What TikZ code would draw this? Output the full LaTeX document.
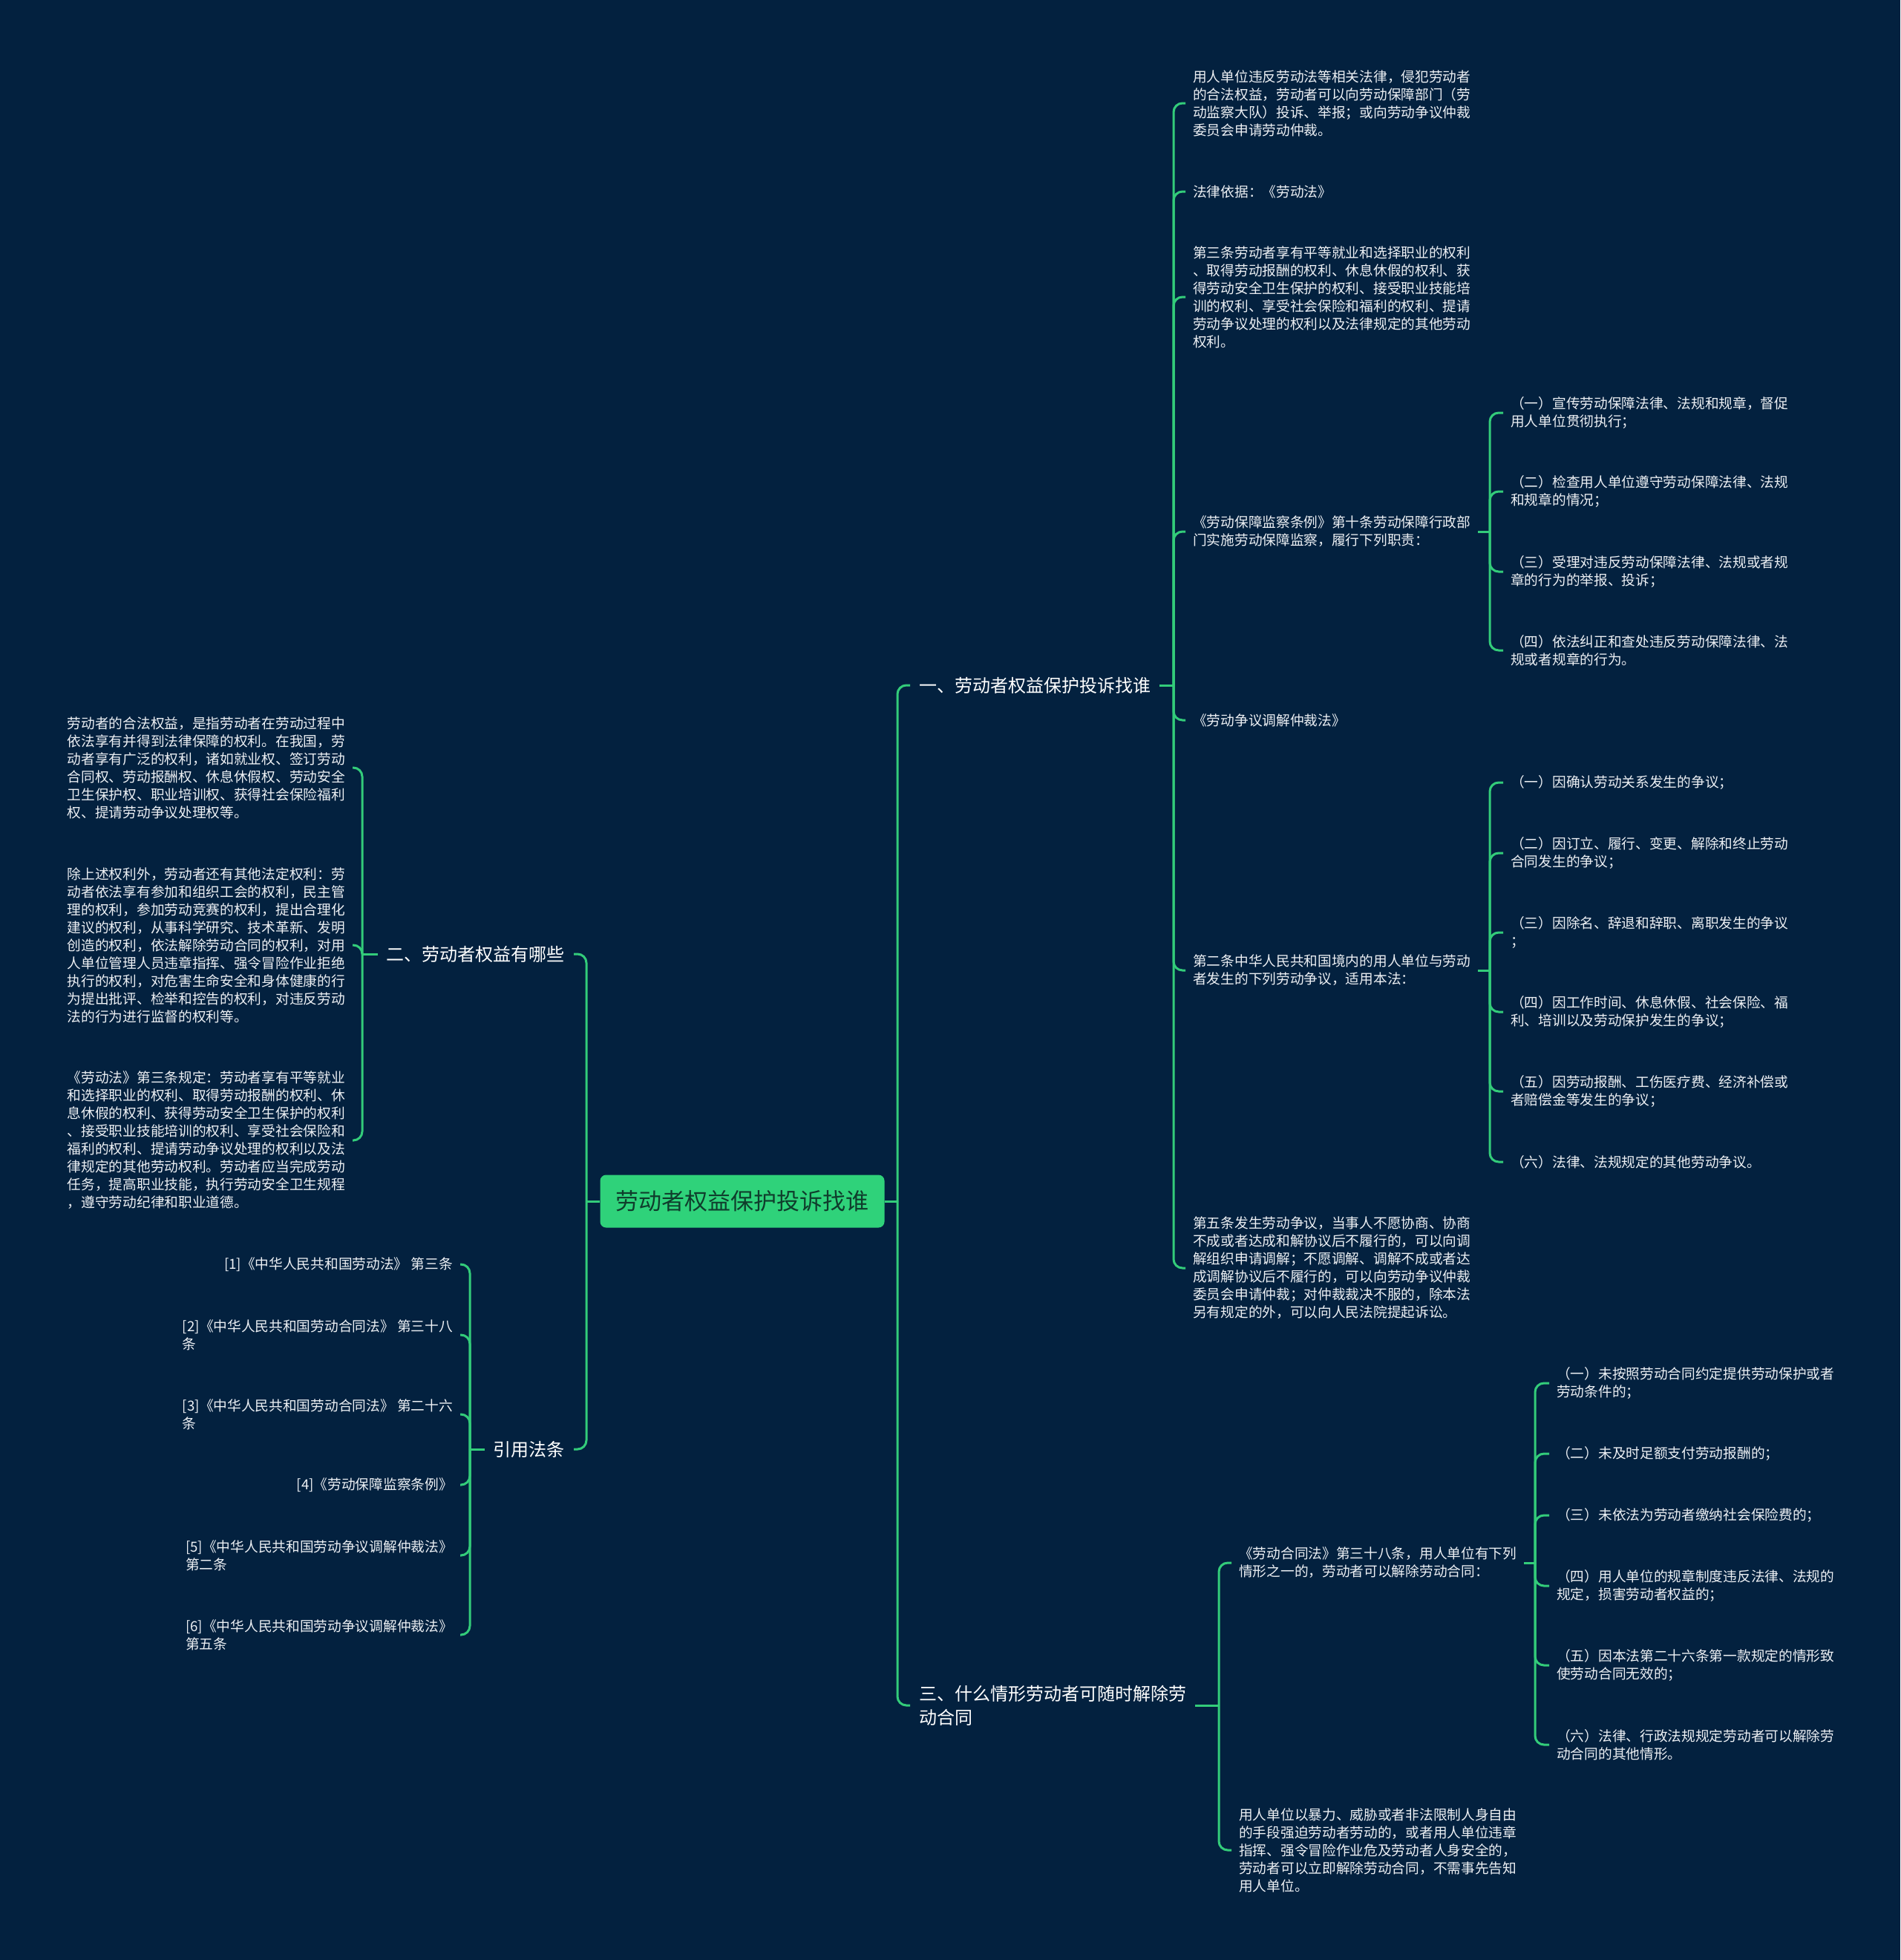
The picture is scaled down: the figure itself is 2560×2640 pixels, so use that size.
\documentclass[tikz,border=0pt]{standalone}
\usepackage{fontspec}
\setmainfont{Noto Sans CJK SC}
\usepackage{tikz}

\definecolor{bgnavy}{HTML}{03213F}
\definecolor{linkgreen}{HTML}{33CC7A}
\definecolor{rootgreen}{HTML}{2FD27A}
\definecolor{roottext}{HTML}{0F3D2C}
\definecolor{leaftext}{HTML}{EDF0F4}

\newcommand{\leaffont}{\fontsize{18.7}{24}\selectfont}
\newcommand{\branchfont}{\fontsize{24}{32}\selectfont}
\newcommand{\rootfont}{\fontsize{31}{36}\selectfont}

\begin{document}
\begin{tikzpicture}[x=1pt,y=-1pt,
    link/.style={draw=linkgreen,line width=3pt,rounded corners=12pt},
    leaf/.style={text=leaftext,font=\leaffont,align=left,inner xsep=10pt,inner ysep=2pt},
    branch/.style={text=white,font=\branchfont,align=left,inner xsep=12pt,inner ysep=3pt},
    rootbox/.style={fill=rootgreen,text=roottext,font=\rootfont,rounded corners=8pt,
      minimum width=383pt,minimum height=71pt}]

    % Background
    \fill[bgnavy] (0,0) rectangle (2560,2640);
    \useasboundingbox (0,0) rectangle (2560,2640);

    % Root
    \node[rootbox] (root) at (1000,1618) {劳动者权益保护投诉找谁};

    % Main branches
    \node[branch,anchor=west] (b1) at (1226,923) {一、劳动者权益保护投诉找谁};
    \node[branch,anchor=west] (b3) at (1226,2297) {三、什么情形劳动者可随时解除劳\\动合同};
    \node[branch,anchor=east] (b2) at (773,1285) {二、劳动者权益有哪些};
    \node[branch,anchor=east] (b4) at (773,1952) {引用法条};

    % Branch 1 leaves
    \node[leaf,anchor=west] (c1) at (1597,139) {用人单位违反劳动法等相关法律，侵犯劳动者\\的合法权益，劳动者可以向劳动保障部门（劳\\动监察大队）投诉、举报；或向劳动争议仲裁\\委员会申请劳动仲裁。};
    \node[leaf,anchor=west] (c2) at (1597,258) {法律依据：《劳动法》};
    \node[leaf,anchor=west] (c3) at (1597,400) {第三条劳动者享有平等就业和选择职业的权利\\、取得劳动报酬的权利、休息休假的权利、获\\得劳动安全卫生保护的权利、接受职业技能培\\训的权利、享受社会保险和福利的权利、提请\\劳动争议处理的权利以及法律规定的其他劳动\\权利。};
    \node[leaf,anchor=west] (c4) at (1597,716) {《劳动保障监察条例》第十条劳动保障行政部\\门实施劳动保障监察，履行下列职责：};
    \node[leaf,anchor=west] (c5) at (1597,970) {《劳动争议调解仲裁法》};
    \node[leaf,anchor=west] (c6) at (1597,1307) {第二条中华人民共和国境内的用人单位与劳动\\者发生的下列劳动争议，适用本法：};
    \node[leaf,anchor=west] (c7) at (1597,1708) {第五条发生劳动争议，当事人不愿协商、协商\\不成或者达成和解协议后不履行的，可以向调\\解组织申请调解；不愿调解、调解不成或者达\\成调解协议后不履行的，可以向劳动争议仲裁\\委员会申请仲裁；对仲裁裁决不服的，除本法\\另有规定的外，可以向人民法院提起诉讼。};

    % Duties list
    \node[leaf,anchor=west] (c41) at (2025,556) {（一）宣传劳动保障法律、法规和规章，督促\\用人单位贯彻执行；};
    \node[leaf,anchor=west] (c42) at (2025,662) {（二）检查用人单位遵守劳动保障法律、法规\\和规章的情况；};
    \node[leaf,anchor=west] (c43) at (2025,770) {（三）受理对违反劳动保障法律、法规或者规\\章的行为的举报、投诉；};
    \node[leaf,anchor=west] (c44) at (2025,876) {（四）依法纠正和查处违反劳动保障法律、法\\规或者规章的行为。};

    % Disputes list
    \node[leaf,anchor=west] (c61) at (2025,1054) {（一）因确认劳动关系发生的争议；};
    \node[leaf,anchor=west] (c62) at (2025,1149) {（二）因订立、履行、变更、解除和终止劳动\\合同发生的争议；};
    \node[leaf,anchor=west] (c63) at (2025,1256) {（三）因除名、辞退和辞职、离职发生的争议\\；};
    \node[leaf,anchor=west] (c64) at (2025,1363) {（四）因工作时间、休息休假、社会保险、福\\利、培训以及劳动保护发生的争议；};
    \node[leaf,anchor=west] (c65) at (2025,1470) {（五）因劳动报酬、工伤医疗费、经济补偿或\\者赔偿金等发生的争议；};
    \node[leaf,anchor=west] (c66) at (2025,1565) {（六）法律、法规规定的其他劳动争议。};

    % Branch 3 leaves
    \node[leaf,anchor=west] (f1) at (1659,2105) {《劳动合同法》第三十八条，用人单位有下列\\情形之一的，劳动者可以解除劳动合同：};
    \node[leaf,anchor=west] (f2) at (1659,2492) {用人单位以暴力、威胁或者非法限制人身自由\\的手段强迫劳动者劳动的，或者用人单位违章\\指挥、强令冒险作业危及劳动者人身安全的，\\劳动者可以立即解除劳动合同，不需事先告知\\用人单位。};
    \node[leaf,anchor=west] (g1) at (2087,1863) {（一）未按照劳动合同约定提供劳动保护或者\\劳动条件的；};
    \node[leaf,anchor=west] (g2) at (2087,1958) {（二）未及时足额支付劳动报酬的；};
    \node[leaf,anchor=west] (g3) at (2087,2041) {（三）未依法为劳动者缴纳社会保险费的；};
    \node[leaf,anchor=west] (g4) at (2087,2136) {（四）用人单位的规章制度违反法律、法规的\\规定，损害劳动者权益的；};
    \node[leaf,anchor=west] (g5) at (2087,2243) {（五）因本法第二十六条第一款规定的情形致\\使劳动合同无效的；};
    \node[leaf,anchor=west] (g6) at (2087,2350) {（六）法律、行政法规规定劳动者可以解除劳\\动合同的其他情形。};

    % Branch 2 leaves
    \node[leaf,anchor=east] (d1) at (475,1034) {劳动者的合法权益，是指劳动者在劳动过程中\\依法享有并得到法律保障的权利。在我国，劳\\动者享有广泛的权利，诸如就业权、签订劳动\\合同权、劳动报酬权、休息休假权、劳动安全\\卫生保护权、职业培训权、获得社会保险福利\\权、提请劳动争议处理权等。};
    \node[leaf,anchor=east] (d2) at (475,1273) {除上述权利外，劳动者还有其他法定权利：劳\\动者依法享有参加和组织工会的权利，民主管\\理的权利，参加劳动竞赛的权利，提出合理化\\建议的权利，从事科学研究、技术革新、发明\\创造的权利，依法解除劳动合同的权利，对用\\人单位管理人员违章指挥、强令冒险作业拒绝\\执行的权利，对危害生命安全和身体健康的行\\为提出批评、检举和控告的权利，对违反劳动\\法的行为进行监督的权利等。};
    \node[leaf,anchor=east] (d3) at (475,1536) {《劳动法》第三条规定：劳动者享有平等就业\\和选择职业的权利、取得劳动报酬的权利、休\\息休假的权利、获得劳动安全卫生保护的权利\\、接受职业技能培训的权利、享受社会保险和\\福利的权利、提请劳动争议处理的权利以及法\\律规定的其他劳动权利。劳动者应当完成劳动\\任务，提高职业技能，执行劳动安全卫生规程\\，遵守劳动纪律和职业道德。};

    % References
    \node[leaf,anchor=east] (e1) at (620,1703) {[1]《中华人民共和国劳动法》 第三条};
    \node[leaf,anchor=east] (e2) at (620,1798) {[2]《中华人民共和国劳动合同法》 第三十八\\条};
    \node[leaf,anchor=east] (e3) at (620,1905) {[3]《中华人民共和国劳动合同法》 第二十六\\条};
    \node[leaf,anchor=east] (e4) at (620,2000) {[4]《劳动保障监察条例》};
    \node[leaf,anchor=east] (e5) at (620,2095) {[5]《中华人民共和国劳动争议调解仲裁法》\\第二条};
    \node[leaf,anchor=east] (e6) at (620,2202) {[6]《中华人民共和国劳动争议调解仲裁法》\\第五条};

    % Junctions
    \coordinate (jr1) at (1209,1618);
    \coordinate (jl1) at (790,1618);
    \coordinate (jr2) at (1581,923);
    \coordinate (jr3) at (2007,716);
    \coordinate (jr4) at (2007,1307);
    \coordinate (jr5) at (1642,2297);
    \coordinate (jr6) at (2068,2105);
    \coordinate (jl2) at (488,1285);
    \coordinate (jl3) at (633,1952);

    % Root to main branches
    \draw[link] (root.east) -- (jr1);
    \draw[link] (jr1) |- (b1.west);
    \draw[link] (jr1) |- (b3.west);
    \draw[link] (root.west) -- (jl1);
    \draw[link] (jl1) |- (b2.east);
    \draw[link] (jl1) |- (b4.east);

    % Branch 1
    \draw[link] (b1.east) -- (jr2);
    \draw[link] (jr2) |- (c1.west);
    \draw[link] (jr2) |- (c2.west);
    \draw[link] (jr2) |- (c3.west);
    \draw[link] (jr2) |- (c4.west);
    \draw[link] (jr2) |- (c5.west);
    \draw[link] (jr2) |- (c6.west);
    \draw[link] (jr2) |- (c7.west);

    \draw[link] (c4.east) -- (jr3);
    \draw[link] (jr3) |- (c41.west);
    \draw[link] (jr3) |- (c42.west);
    \draw[link] (jr3) |- (c43.west);
    \draw[link] (jr3) |- (c44.west);

    \draw[link] (c6.east) -- (jr4);
    \draw[link] (jr4) |- (c61.west);
    \draw[link] (jr4) |- (c62.west);
    \draw[link] (jr4) |- (c63.west);
    \draw[link] (jr4) |- (c64.west);
    \draw[link] (jr4) |- (c65.west);
    \draw[link] (jr4) |- (c66.west);

    % Branch 3
    \draw[link] (b3.east) -- (jr5);
    \draw[link] (jr5) |- (f1.west);
    \draw[link] (jr5) |- (f2.west);
    \draw[link] (f1.east) -- (jr6);
    \draw[link] (jr6) |- (g1.west);
    \draw[link] (jr6) |- (g2.west);
    \draw[link] (jr6) |- (g3.west);
    \draw[link] (jr6) |- (g4.west);
    \draw[link] (jr6) |- (g5.west);
    \draw[link] (jr6) |- (g6.west);

    % Branch 2
    \draw[link] (b2.west) -- (jl2);
    \draw[link] (jl2) |- (d1.east);
    \draw[link] (jl2) |- (d2.east);
    \draw[link] (jl2) |- (d3.east);

    % References
    \draw[link] (b4.west) -- (jl3);
    \draw[link] (jl3) |- (e1.east);
    \draw[link] (jl3) |- (e2.east);
    \draw[link] (jl3) |- (e3.east);
    \draw[link] (jl3) |- (e4.east);
    \draw[link] (jl3) |- (e5.east);
    \draw[link] (jl3) |- (e6.east);
\end{tikzpicture}
\end{document}
